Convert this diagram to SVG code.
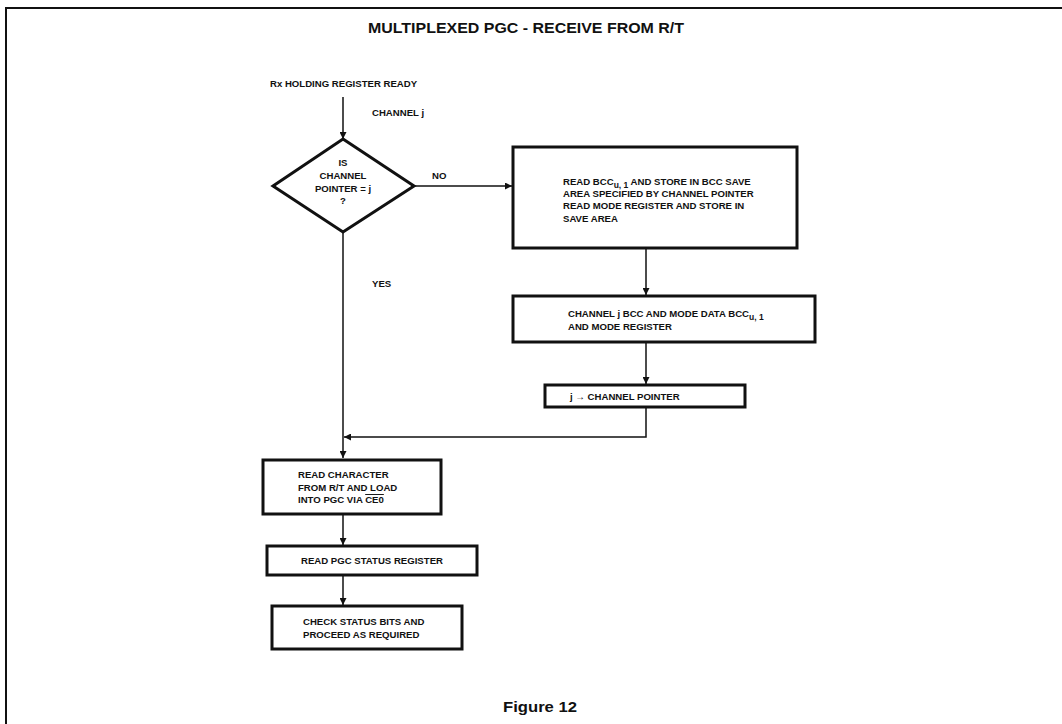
<svg xmlns="http://www.w3.org/2000/svg" width="1062" height="724" viewBox="0 0 1062 724">
<defs>
<style>
.t{font-family:"Liberation Sans",Arial,sans-serif;font-weight:bold;fill:#111;}
.b{font-size:9.6px;}
.box{fill:#fff;stroke:#111;stroke-width:3;}
.c{fill:none;stroke:#111;stroke-width:1.5;}
</style>
<marker id="ah" viewBox="0 0 10 10" refX="10" refY="5" markerWidth="7" markerHeight="7" markerUnits="userSpaceOnUse" orient="auto">
<path d="M0,0 L10,5 L0,10 z" fill="#111"/>
</marker>
</defs>
<rect width="1062" height="724" fill="#fff"/>
<g id="frame">
<path d="M1062,8 H6 V724" fill="none" stroke="#111" stroke-width="2"/>
</g>
<text class="t" x="526" y="33" font-size="15" text-anchor="middle" textLength="316" lengthAdjust="spacingAndGlyphs">MULTIPLEXED PGC - RECEIVE FROM R/T</text>
<g id="connectors">
<line class="c" x1="343" y1="97" x2="343" y2="139" marker-end="url(#ah)"/>
<line class="c" x1="414" y1="186" x2="512" y2="186" marker-end="url(#ah)"/>
<line class="c" x1="343" y1="232" x2="343" y2="458" marker-end="url(#ah)"/>
<line class="c" x1="646" y1="249" x2="646" y2="295" marker-end="url(#ah)"/>
<line class="c" x1="646" y1="342" x2="646" y2="384" marker-end="url(#ah)"/>
<polyline class="c" points="646,407 646,437 344,437" marker-end="url(#ah)"/>
<line class="c" x1="343" y1="514" x2="343" y2="545" marker-end="url(#ah)"/>
<line class="c" x1="343" y1="575" x2="343" y2="605" marker-end="url(#ah)"/>
</g>
<g id="labels">
<text class="t b" x="270" y="87">Rx HOLDING REGISTER READY</text>
<text class="t b" x="372" y="116">CHANNEL j</text>
<text class="t b" x="432" y="179">NO</text>
<text class="t b" x="372" y="287">YES</text>
</g>
<g id="decision">
<polygon class="box" points="343,139 414,186 343,232 273,186"/>
<text class="t b" text-anchor="middle" x="343"><tspan x="343" y="166">IS</tspan><tspan x="343" y="179">CHANNEL</tspan><tspan x="343" y="192">POINTER = j</tspan><tspan x="343" y="204">?</tspan></text>
</g>
<g id="save-bcc">
<rect class="box" x="513" y="147" width="284" height="101"/>
<text class="t b"><tspan x="563" y="185">READ BCC<tspan font-size="8.5" dy="3">u, 1</tspan><tspan dy="-3"> AND STORE IN BCC SAVE</tspan></tspan><tspan x="563" y="197">AREA SPECIFIED BY CHANNEL POINTER</tspan><tspan x="563" y="209">READ MODE REGISTER AND STORE IN</tspan><tspan x="563" y="222">SAVE AREA</tspan></text>
</g>
<g id="load-bcc">
<rect class="box" x="513" y="296" width="302" height="46"/>
<text class="t b"><tspan x="568" y="317">CHANNEL j BCC AND MODE DATA  BCC<tspan font-size="8.5" dy="3">u, 1</tspan></tspan><tspan x="568" y="330">AND MODE REGISTER</tspan></text>
</g>
<g id="set-pointer">
<rect class="box" x="545" y="385" width="200" height="22"/>
<text class="t b" x="570" y="400">j → CHANNEL POINTER</text>
</g>
<g id="read-char">
<rect class="box" x="263" y="460" width="178" height="54"/>
<text class="t b"><tspan x="298" y="478">READ CHARACTER</tspan><tspan x="298" y="491">FROM R/T AND LOAD</tspan><tspan x="298" y="503">INTO PGC VIA <tspan text-decoration="overline">CE0</tspan></tspan></text>
</g>
<g id="read-status">
<rect class="box" x="267" y="546" width="210" height="29"/>
<text class="t b" x="301" y="564">READ PGC STATUS REGISTER</text>
</g>
<g id="check-status">
<rect class="box" x="272" y="606" width="190" height="43"/>
<text class="t b"><tspan x="303" y="625">CHECK STATUS BITS AND</tspan><tspan x="303" y="638">PROCEED AS REQUIRED</tspan></text>
</g>
<text class="t" x="540" y="712" font-size="15" text-anchor="middle" textLength="74" lengthAdjust="spacingAndGlyphs">Figure 12</text>
</svg>
